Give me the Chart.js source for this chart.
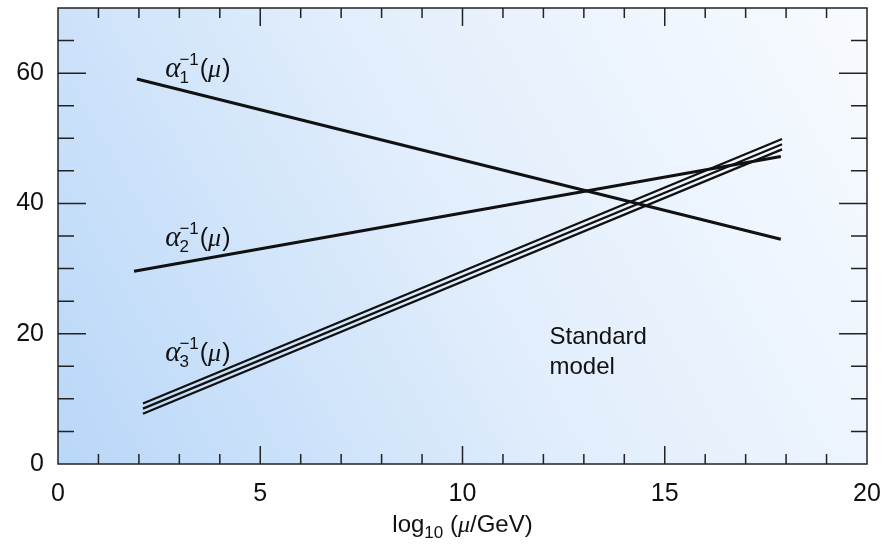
<!DOCTYPE html>
<html>
<head>
<meta charset="utf-8">
<script src="https://cdn.jsdelivr.net/npm/chart.js@4.4.1/dist/chart.umd.min.js"></script>
<style>
  html, body { margin: 0; padding: 0; background: #fff; }
  #wrap { width: 883px; height: 545px; }
</style>
</head>
<body>
<div id="wrap"><canvas id="chart"></canvas></div>
<script>
"use strict";
// running couplings
const alpha1X = [1.95, 17.87];
const alpha1Y = [59.1, 34.5];
const alpha2X = [1.88, 17.87];
const alpha2Y = [29.6, 47.2];
const alpha3X = [2.1, 17.9];
const alpha3YHigh = [9.3, 49.9];
const alpha3YMid = [8.5, 49.1];
const alpha3YLow = [7.7, 48.3];

const xLabels = [0, 5, 10, 15, 20];
const yLabels = [0, 20, 40, 60];

// curve labels: index, position in data units
const curveNames = ['1', '2', '3'];
const curveLabelX = [2.65, 2.65, 2.65];
const curveLabelY = [59.4, 33.5, 15.8];
const noteLines = ['Standard', 'model'];
const noteX = 12.15;
const noteY = [19.5, 14.9];

function pts(xs, ys) {
    return xs.map((x, i) => ({ x: x, y: ys[i] }));
}

const sans = '"Liberation Sans", Arial, sans-serif';
const serif = '"Liberation Serif", "Times New Roman", serif';

const decor = {
    id: 'decor',
    beforeDraw(chart) {
        const a = chart.chartArea, c = chart.ctx;
        const g = c.createLinearGradient(a.left, a.bottom, a.right, a.top);
        g.addColorStop(0, '#b9d7f8');
        g.addColorStop(0.5, '#e2eefc');
        g.addColorStop(1, '#f8fbff');
        c.save();
        c.fillStyle = g;
        c.fillRect(a.left, a.top, a.right - a.left, a.bottom - a.top);
        c.restore();
    },
    afterDraw(chart) {
        const a = chart.chartArea, c = chart.ctx;
        const xs = chart.scales.x, ys = chart.scales.y;
        c.save();
        c.strokeStyle = '#222';
        c.lineWidth = 1.5;
        // inward ticks
        for (let v = 1; v < 20; v++) {
            const px = xs.getPixelForValue(v);
            const len = v % 5 === 0 ? 18 : 10;
            c.beginPath();
            c.moveTo(px, a.bottom); c.lineTo(px, a.bottom - len);
            c.moveTo(px, a.top); c.lineTo(px, a.top + len);
            c.stroke();
        }
        for (let v = 5; v < 70; v += 5) {
            const py = ys.getPixelForValue(v);
            const len = v % 20 === 0 ? 28 : 16;
            c.beginPath();
            c.moveTo(a.left, py); c.lineTo(a.left + len, py);
            c.moveTo(a.right, py); c.lineTo(a.right - len, py);
            c.stroke();
        }
        c.strokeRect(a.left, a.top, a.right - a.left, a.bottom - a.top);

        // curve labels  alpha_i^-1(mu)
        c.fillStyle = '#111';
        c.textBaseline = 'alphabetic';
        curveNames.forEach((n, i) => {
            let x = xs.getPixelForValue(curveLabelX[i]);
            const y = ys.getPixelForValue(curveLabelY[i]);
            c.font = 'italic 29px ' + serif;
            c.fillText('\u03b1', x, y);
            const w = c.measureText('\u03b1').width;
            c.font = '17px ' + sans;
            c.fillText(n, x + w - 1, y + 6);
            c.fillText('\u22121', x + w - 1, y - 12);
            x += w + c.measureText('\u22121').width;
            c.font = '25px ' + sans;
            c.fillText('(', x, y);
            x += c.measureText('(').width;
            c.font = 'italic 26px ' + serif;
            c.fillText('\u03bc', x, y);
            x += c.measureText('\u03bc').width + 1;
            c.font = '25px ' + sans;
            c.fillText(')', x, y);
        });

        c.font = '24px ' + sans;
        c.textBaseline = 'middle';
        noteLines.forEach((t, i) => {
            c.fillText(t, xs.getPixelForValue(noteX), ys.getPixelForValue(noteY[i]));
        });

        // axis title log10 (mu/GeV)
        c.textBaseline = 'alphabetic';
        const parts = [['log', '24px ' + sans, 0], ['10', '17px ' + sans, 6],
                       [' (', '24px ' + sans, 0], ['\u03bc', 'italic 24px ' + serif, 0],
                       ['/GeV)', '24px ' + sans, 0]];
        let total = 0;
        parts.forEach(p => { c.font = p[1]; total += c.measureText(p[0]).width; });
        let tx = (a.left + a.right) / 2 - total / 2;
        const ty = 532;
        parts.forEach(p => {
            c.font = p[1];
            c.fillText(p[0], tx, ty + p[2]);
            tx += c.measureText(p[0]).width;
        });
        c.restore();
    }
};

const thick = { borderColor: '#111', borderWidth: 3, pointRadius: 0, showLine: true, fill: false };
const thin = { borderColor: '#111', borderWidth: 2.2, pointRadius: 0, showLine: true, fill: false };

new Chart(document.getElementById('chart'), {
    type: 'scatter',
    data: {
        datasets: [
            Object.assign({ label: 'alpha1', data: pts(alpha1X, alpha1Y) }, thick),
            Object.assign({ label: 'alpha2', data: pts(alpha2X, alpha2Y) }, thick),
            Object.assign({ label: 'alpha3 high', data: pts(alpha3X, alpha3YHigh) }, thin),
            Object.assign({ label: 'alpha3', data: pts(alpha3X, alpha3YMid) }, thin),
            Object.assign({ label: 'alpha3 low', data: pts(alpha3X, alpha3YLow) }, thin),
        ],
    },
    options: {
        responsive: true,
        maintainAspectRatio: false,
        animation: false,
        layout: { padding: { top: 8, right: 16, left: 0, bottom: 0 } },
        plugins: { legend: { display: false }, tooltip: { enabled: false } },
        scales: {
            x: {
                type: 'linear',
                min: 0, max: 20,
                grid: { display: false, drawTicks: false },
                border: { display: false },
                afterBuildTicks: s => { s.ticks = xLabels.map(v => ({ value: v })); },
                afterFit: s => { s.height = 81; s.paddingLeft = 0; s.paddingRight = 0; },
                ticks: { color: '#111', padding: 15, maxRotation: 0, font: { family: sans, size: 25 } },
            },
            y: {
                min: 0, max: 70,
                grid: { display: false, drawTicks: false },
                border: { display: false },
                afterBuildTicks: s => { s.ticks = yLabels.map(v => ({ value: v })); },
                afterFit: s => { s.width = 58; s.paddingTop = 0; s.paddingBottom = 0; },
                ticks: { color: '#111', padding: 14, font: { family: sans, size: 25 } },
            },
        },
    },
    plugins: [decor],
});
</script>
</body>
</html>
